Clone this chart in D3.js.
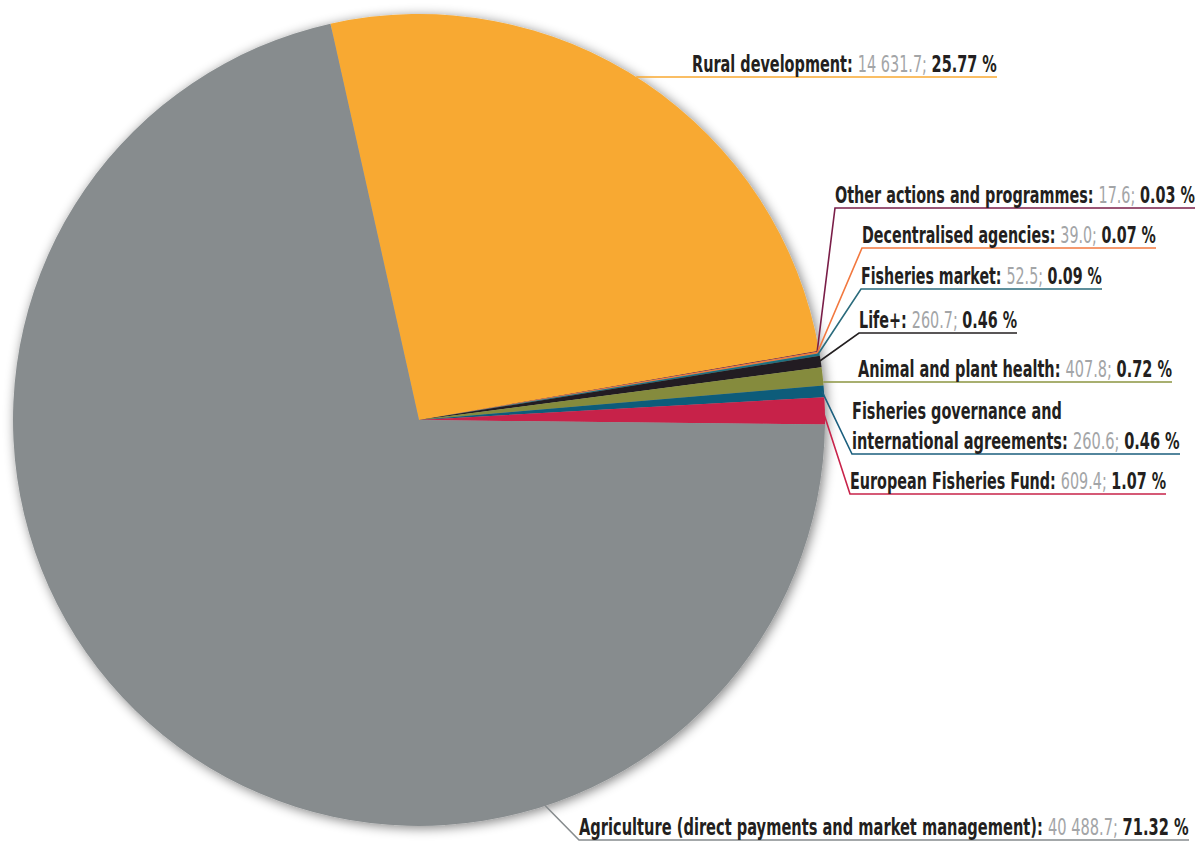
<!DOCTYPE html>
<html>
<head>
<meta charset="utf-8">
<script src="https://cdn.jsdelivr.net/npm/d3@7"></script>
<style>
  body { margin: 0; background: #fff; }
  text { font-family: "Liberation Sans Narrow", "Arial Narrow", "DejaVu Sans Condensed", sans-serif; font-size: 23px; white-space: pre; }
</style>
</head>
<body>
<div id="chart"></div>
<script>
// data, in pie order (clockwise from the top)
var categories = ["Rural development", "Other actions and programmes", "Decentralised agencies",
    "Fisheries market", "Life+", "Animal and plant health",
    "Fisheries governance and international agreements", "European Fisheries Fund",
    "Agriculture (direct payments and market management)"];
var amounts = [14631.7, 17.6, 39.0, 52.5, 260.7, 407.8, 260.6, 609.4, 40488.7];
var amountLabels = ["14 631.7", "17.6", "39.0", "52.5", "260.7", "407.8", "260.6", "609.4", "40 488.7"];
var shareLabels = ["25.77 %", "0.03 %", "0.07 %", "0.09 %", "0.46 %", "0.72 %", "0.46 %", "1.07 %", "71.32 %"];
var sliceColors = ["#f8a931", "#6e1e3c", "#f07a3a", "#1e7080", "#231f20", "#858b3c", "#0d5b7a", "#c7224a", "#878c8e"];
var lineColors = ["#f8a931", "#7a1e48", "#f2783f", "#2a6b7c", "#231f20", "#8b9440", "#1b5f7e", "#c8234a", "#878c8e"];

// label placement: text left x, underline y, text width
var labelLayout = [
    {x: 692, y: 77, w: 305, edge: true},
    {x: 835, y: 208, w: 360},
    {x: 862, y: 248, w: 294},
    {x: 861, y: 289, w: 241},
    {x: 859, y: 333, w: 158},
    {x: 858, y: 382, w: 314, edge: true},
    {x: 852, y: 454, w: 328, first: "Fisheries governance and", w1: 210, second: "international agreements"},
    {x: 850, y: 494, w: 316},
    {x: 579, y: 840, w: 610, angle: 162}
];

var width = 1201, height = 841;
var cx = 419, cy = 420, radius = 406;

var svg = d3.select("#chart").append("svg")
    .attr("width", width)
    .attr("height", height);

// soft shadow round the pie
var filter = svg.append("defs").append("filter")
    .attr("id", "shadow")
    .attr("x", "-10%").attr("y", "-10%")
    .attr("width", "120%").attr("height", "120%");
filter.append("feGaussianBlur").attr("in", "SourceAlpha").attr("stdDeviation", 6).attr("result", "blur");
filter.append("feOffset").attr("dx", 2).attr("dy", 2).attr("result", "off");
filter.append("feComponentTransfer").append("feFuncA").attr("type", "linear").attr("slope", 0.5);
var merge = filter.append("feMerge");
merge.append("feMergeNode");
merge.append("feMergeNode").attr("in", "SourceGraphic");

var startAngle = -12.6 * Math.PI / 180;
var pie = d3.pie()
    .sort(null)
    .startAngle(startAngle)
    .endAngle(startAngle + 2 * Math.PI)
    .value(function(d){ return d; });

var arc = d3.arc().innerRadius(0).outerRadius(radius);
var arcs = pie(amounts);

var g = svg.append("g")
    .attr("transform", "translate(" + cx + "," + cy + ")");

g.append("g")
    .attr("filter", "url(#shadow)")
    .selectAll("path")
    .data(arcs)
    .enter().append("path")
    .attr("d", arc)
    .attr("fill", function(d, i){ return sliceColors[i]; });

function pointAt(a, r){
    return [cx + r * Math.sin(a), cy - r * Math.cos(a)];
}

var labels = svg.append("g");

// one line of label text, squeezed sideways to the given width
function fitLine(parts, x, y, w){
    var t = labels.append("text").attr("x", 0).attr("y", 0);
    parts.forEach(function(p){
        t.append("tspan")
            .attr("font-weight", p.bold ? "bold" : "normal")
            .attr("fill", p.color)
            .text(p.text);
    });
    var k = w / t.node().getComputedTextLength();
    t.attr("transform", "translate(" + x + "," + y + ") scale(" + k + ",1)");
}

// leader lines and labels
arcs.forEach(function(d, i){
    var L = labelLayout[i];
    var color = lineColors[i];
    if (L.edge) {
        var dy = L.y - cy;
        var x0 = cx + Math.sqrt(radius * radius - dy * dy);
        labels.append("line")
            .attr("x1", x0).attr("y1", L.y)
            .attr("x2", L.x + L.w).attr("y2", L.y)
            .attr("stroke", color).attr("stroke-width", 1.6);
    } else {
        var a = L.angle !== undefined ? L.angle * Math.PI / 180 : (d.startAngle + d.endAngle) / 2;
        var p = pointAt(a, radius - 2);
        labels.append("polyline")
            .attr("points", [p, [L.x, L.y], [L.x + L.w, L.y]].map(function(q){ return q.join(","); }).join(" "))
            .attr("fill", "none")
            .attr("stroke", color).attr("stroke-width", 1.6);
    }

    if (L.first) {
        fitLine([{text: L.first, bold: true, color: "#231f20"}], L.x, L.y - 35, L.w1);
    }
    var name = L.second || categories[i];
    fitLine([
        {text: name + ": ", bold: true, color: "#231f20"},
        {text: amountLabels[i] + "; ", bold: false, color: "#a3a5a7"},
        {text: shareLabels[i], bold: true, color: "#231f20"}
    ], L.x, L.y - 5, L.w);
});
</script>
</body>
</html>
